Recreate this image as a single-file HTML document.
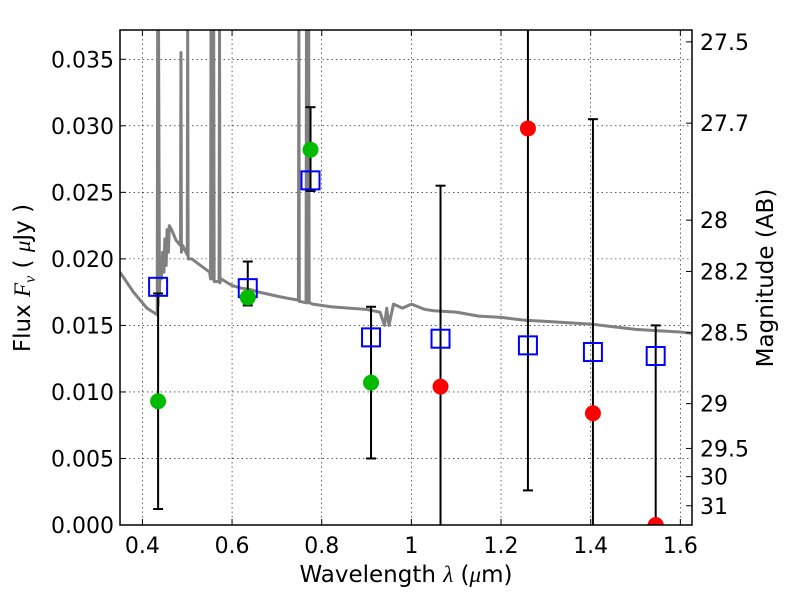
<!DOCTYPE html>
<html><head><meta charset="utf-8"><style>
html,body{margin:0;background:#fff;overflow:hidden;width:800px;height:600px}
svg{display:block;font-family:"DejaVu Sans","Liberation Sans",sans-serif}
</style></head><body>
<svg id="chart" width="800" height="600" viewBox="0 0 800 600"></svg>
<script>
const xTicks=[0.4,0.6,0.8,1.0,1.2,1.4,1.6];
const xTickLabels=["0.4","0.6","0.8","1","1.2","1.4","1.6"];
const yTicks=[0,0.005,0.010,0.015,0.020,0.025,0.030,0.035];
const yTickLabels=["0.000","0.005","0.010","0.015","0.020","0.025","0.030","0.035"];
const magTicks=[27.5,27.7,28,28.2,28.5,29,29.5,30,31];
const magTickLabels=["27.5","27.7","28","28.2","28.5","29","29.5","30","31"];
const bandWave=[0.435,0.635,0.775,0.91,1.065,1.26,1.405,1.545];
const modelFlux=[0.0179,0.0178,0.0259,0.0141,0.0140,0.0135,0.0130,0.0127];
const obsFlux=[0.0093,0.0171,0.0282,0.0107,0.0104,0.0298,0.0084,0.0];
const obsColor=["#00bb00","#00bb00","#00bb00","#00bb00","red","red","red","red"];
const errLow=[0.0012,0.0165,0.0251,0.0050,-0.01,0.0026,-0.01,-0.01];
const errHigh=[0.0174,0.0198,0.0314,0.0164,0.0255,0.05,0.0305,0.0150];
const specWave=[0.35,0.38,0.41,0.433,0.434,0.435,0.436,0.438,0.44,0.442,0.445,0.448,0.45,0.453,0.455,0.458,0.46,0.465,0.47,0.475,0.485,0.486,0.487,0.49,0.5,0.501,0.502,0.51,0.53,0.55,0.552,0.553,0.554,0.556,0.558,0.559,0.56,0.571,0.572,0.573,0.575,0.6,0.62,0.64,0.66,0.7,0.73,0.748,0.749,0.75,0.752,0.765,0.766,0.767,0.77,0.771,0.772,0.773,0.78,0.82,0.86,0.9,0.93,0.94,0.945,0.95,0.96,0.98,1.0,1.03,1.05,1.1,1.15,1.2,1.25,1.3,1.35,1.4,1.45,1.5,1.55,1.6,1.626];
const specFlux=[0.0190,0.0175,0.0163,0.0158,0.04,0.0165,0.04,0.0175,0.0200,0.0185,0.0205,0.0190,0.0215,0.0195,0.0222,0.0205,0.0225,0.0222,0.0218,0.0214,0.0210,0.0355,0.0205,0.0210,0.0203,0.04,0.0200,0.0200,0.0195,0.0190,0.0185,0.04,0.0185,0.04,0.0185,0.04,0.0183,0.0183,0.04,0.0182,0.0185,0.0180,0.0178,0.0177,0.0175,0.0172,0.0170,0.0169,0.04,0.0168,0.0168,0.0167,0.04,0.0167,0.0167,0.04,0.0167,0.0167,0.0166,0.0164,0.0163,0.0162,0.0160,0.0150,0.0163,0.0150,0.0166,0.0163,0.0166,0.0162,0.0161,0.0160,0.0157,0.0156,0.0154,0.0153,0.0152,0.0151,0.0149,0.0147,0.0146,0.0145,0.0144];

const L=120,R=692,T=30,B=525,xmin=0.35,xmax=1.626,ymin=0,ymax=0.0372;
const X=v=>L+(v-xmin)/(xmax-xmin)*(R-L);
const Y=v=>B-(v-ymin)/(ymax-ymin)*(B-T);
const clampY=v=>Y(Math.min(ymax,Math.max(ymin,v)));
const magToFlux=m=>Math.pow(10,(23.9-m)/2.5);
const svg=document.getElementById('chart');
const NS='http://www.w3.org/2000/svg';
function mk(tag,attrs,parent){const e=document.createElementNS(NS,tag);for(const k in attrs)e.setAttribute(k,attrs[k]);(parent||svg).appendChild(e);return e;}
const defs=mk('defs',{});const cp=mk('clipPath',{id:'clip'},defs);mk('rect',{x:L,y:T,width:R-L,height:B-T},cp);

const grid=mk('g',{});


xTicks.forEach(v=>mk('line',{x1:X(v),x2:X(v),y1:T,y2:B,stroke:'#000','stroke-width':0.6,'stroke-dasharray':'1.5,3'},grid));
yTicks.forEach(v=>mk('line',{x1:L,x2:R,y1:Y(v),y2:Y(v),stroke:'#000','stroke-width':0.6,'stroke-dasharray':'1.5,3'},grid));

const plot=mk('g',{'clip-path':'url(#clip)'});
const spec=mk('polyline',{points:specWave.map((w,i)=>X(w)+','+clampY(specFlux[i])).join(' '),fill:'none',stroke:'#808080','stroke-width':3,'stroke-linejoin':'round'},plot);



bandWave.forEach((w,i)=>{
  const g=mk('g',{},plot);
  
  
  mk('line',{x1:X(w),x2:X(w),y1:clampY(errLow[i]),y2:clampY(errHigh[i]),stroke:'#000','stroke-width':2},g);
  [errLow[i],errHigh[i]].forEach(v=>{if(v>0&&v<ymax)mk('line',{x1:X(w)-5,x2:X(w)+5,y1:Y(v),y2:Y(v),stroke:'#000','stroke-width':2},g);});
});
bandWave.forEach((w,i)=>{
  const r=mk('rect',{x:X(w)-9,y:Y(modelFlux[i])-9,width:18,height:18,fill:'none',stroke:'#0000ff','stroke-width':2},plot);
  
  
});
bandWave.forEach((w,i)=>{
  const c=mk('circle',{cx:X(w),cy:Y(obsFlux[i]),r:8,fill:obsColor[i]},plot);
  
  
});

mk('rect',{x:L,y:T,width:R-L,height:B-T,fill:'none',stroke:'#000','stroke-width':1.5});

const xa=mk('g',{});


xTicks.forEach((v,i)=>{
  mk('line',{x1:X(v),x2:X(v),y1:B,y2:B-6,stroke:'#000'},xa);
  mk('line',{x1:X(v),x2:X(v),y1:T,y2:T+6,stroke:'#000'},xa);
  const t=mk('text',{x:X(v),y:B+28,'text-anchor':'middle','font-size':22},xa);t.textContent=xTickLabels[i];
});
const ya=mk('g',{});


yTicks.forEach((v,i)=>{
  mk('line',{x1:L,x2:L+6,y1:Y(v),y2:Y(v),stroke:'#000'},ya);
  const t=mk('text',{x:L-6,y:Y(v)+8,'text-anchor':'end','font-size':22},ya);t.textContent=yTickLabels[i];
});
const ma=mk('g',{});


magTicks.forEach((m,i)=>{
  const y=Y(magToFlux(m));
  mk('line',{x1:R,x2:R-6,y1:y,y2:y,stroke:'#000'},ma);
  const t=mk('text',{x:R+8,y:y+8,'font-size':22},ma);t.textContent=magTickLabels[i];
});
const xt=mk('text',{x:406,y:582,'text-anchor':'middle','font-size':23});


xt.innerHTML='Wavelength  <tspan font-family="Liberation Serif" font-style="italic">λ</tspan> (<tspan font-family="Liberation Serif" font-style="italic">μ</tspan>m)';
const yt=mk('text',{x:0,y:0,'text-anchor':'middle','font-size':23,transform:'translate(30,278) rotate(-90)'});


yt.innerHTML='Flux  <tspan font-family="Liberation Serif" font-style="italic">F<tspan font-size="16" dy="5">ν</tspan></tspan><tspan dy="-5">  ( </tspan><tspan font-family="Liberation Serif" font-style="italic">μ</tspan>Jy )';
const rt=mk('text',{x:0,y:0,'text-anchor':'middle','font-size':23,transform:'translate(773,278) rotate(-90)'});


rt.textContent='Magnitude (AB)';
</script>
</body></html>
